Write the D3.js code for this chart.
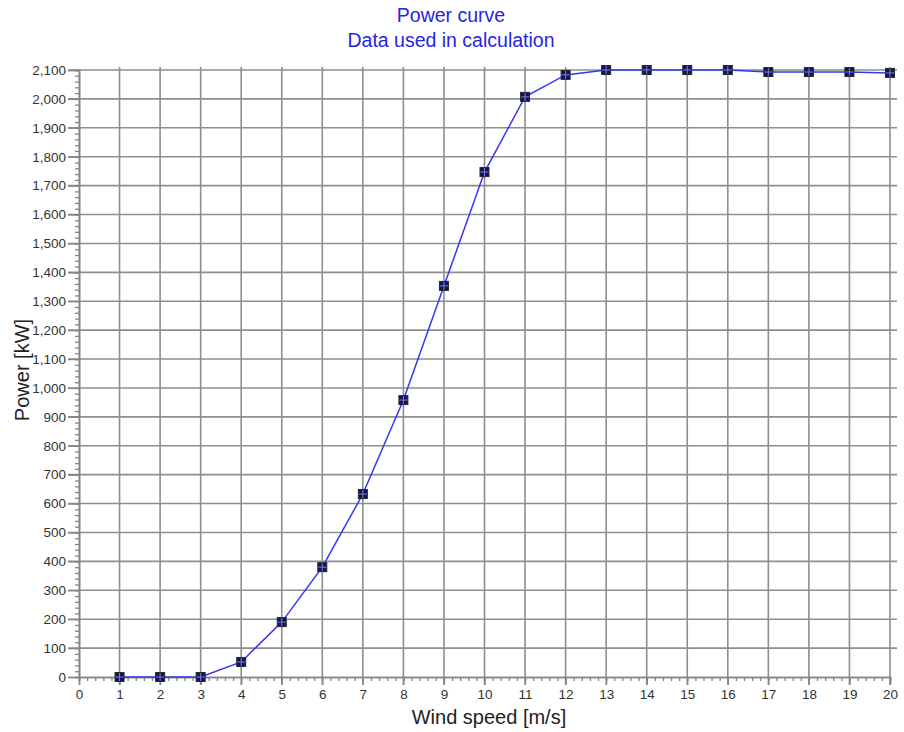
<!DOCTYPE html>
<html>
<head>
<meta charset="utf-8">
<script src="https://cdn.jsdelivr.net/npm/d3@7"></script>
<style>
  body { margin: 0; background: #fff; }
  text { font-family: "Liberation Sans", Arial, sans-serif; }
</style>
</head>
<body>
<svg width="904" height="732"></svg>
<script>
// скорость ветра и мощность
const windSpeed = [1, 2, 3, 4, 5, 6, 7, 8, 9, 10, 11, 12, 13, 14, 15, 16, 17, 18, 19, 20];
const powerKW = [0, 0, 0, 52, 190, 380, 633, 958, 1353, 1747, 2007, 2083, 2100, 2100, 2100, 2100, 2093, 2093, 2093, 2090];
const xTicks = d3.range(0, 21, 1);
const yTicks = d3.range(0, 2101, 100);
const titleLines = ["Power curve", "Data used in calculation"];

const svg = d3.select("svg");
const plotLeft = 79, plotRight = 890, plotTop = 70, plotBottom = 677;

const x = d3.scaleLinear().domain([0, 20]).range([plotLeft, plotRight]);
const y = d3.scaleLinear().domain([0, 2100]).range([plotBottom, plotTop]);

// сетка
const grid = svg.append("g").attr("stroke", "#8e8e8e").attr("stroke-width", 1.6);
grid.selectAll("line.v").data(xTicks.slice(1)).join("line")
    .attr("class", "v")
    .attr("x1", d => x(d)).attr("x2", d => x(d))
    .attr("y1", plotTop - 3).attr("y2", plotBottom + 8);
grid.selectAll("line.h").data(yTicks.slice(1)).join("line")
    .attr("class", "h")
    .attr("x1", plotLeft - 11).attr("x2", plotRight + 7)
    .attr("y1", d => y(d)).attr("y2", d => y(d));

// оси
const xAxis = svg.append("g").attr("transform", `translate(0,${plotBottom})`)
    .call(d3.axisBottom(x).tickValues(xTicks).tickSize(8).tickPadding(4).tickFormat(d3.format("d")));
const xMinor = svg.append("g").attr("transform", `translate(0,${plotBottom})`)
    .call(d3.axisBottom(x).tickValues(d3.range(0, 20.01, 0.2)).tickSize(4).tickFormat(""));
const yAxis = svg.append("g").attr("transform", `translate(${plotLeft},0)`)
    .call(d3.axisLeft(y).tickValues(yTicks).tickSize(11).tickPadding(2).tickFormat(d3.format(",")));
const yMinor = svg.append("g").attr("transform", `translate(${plotLeft},0)`)
    .call(d3.axisLeft(y).tickValues(d3.range(0, 2100.01, 20)).tickSize(4).tickFormat(""));

[xAxis, xMinor, yAxis, yMinor].forEach(g => {
    g.selectAll(".domain").attr("stroke", "#858585").attr("stroke-width", 1.6);
    g.selectAll(".tick line").attr("stroke", "#858585").attr("stroke-width", 1.3);
    g.selectAll("text").attr("fill", "#333").style("font-size", "13.5px")
        .style("font-family", "'Liberation Sans', Arial, sans-serif");
});

// кривая мощности
const points = windSpeed.map((w, i) => ({x: w, y: powerKW[i]}));
const line = d3.line().x(d => x(d.x)).y(d => y(d.y));
svg.append("path")
    .attr("d", line(points))
    .attr("stroke", "#3535f5")
    .attr("stroke-width", 1.5)
    .attr("fill", "none");

// маркеры
const marks = svg.append("g").selectAll("g").data(points).join("g")
    .attr("transform", d => `translate(${x(d.x)},${y(d.y)})`);
marks.append("rect")
    .attr("x", -4.5).attr("y", -4.5).attr("width", 9).attr("height", 9)
    .attr("fill", "#121260").attr("stroke", "#2a2a2a").attr("stroke-width", 1);
marks.append("line").attr("x1", 0).attr("x2", 0).attr("y1", -4).attr("y2", 4)
    .attr("stroke", "#7d86c8").attr("stroke-width", 1);
marks.append("line").attr("x1", -4).attr("x2", 4).attr("y1", 0).attr("y2", 0)
    .attr("stroke", "#7d86c8").attr("stroke-width", 1);

// заголовок
svg.selectAll("text.title").data(titleLines).join("text")
    .attr("class", "title")
    .attr("x", 451).attr("y", (d, i) => 22 + i * 25)
    .attr("text-anchor", "middle")
    .attr("fill", "#2525e6")
    .style("font-size", "19.5px")
    .text(d => d);

// подписи осей
svg.append("text")
    .attr("x", 489).attr("y", 724)
    .attr("text-anchor", "middle")
    .attr("fill", "#222")
    .style("font-size", "20px")
    .text("Wind speed [m/s]");
svg.append("text")
    .attr("transform", "translate(29,370) rotate(-90)")
    .attr("text-anchor", "middle")
    .attr("fill", "#222")
    .style("font-size", "20px")
    .text("Power [kW]");
</script>
</body>
</html>
